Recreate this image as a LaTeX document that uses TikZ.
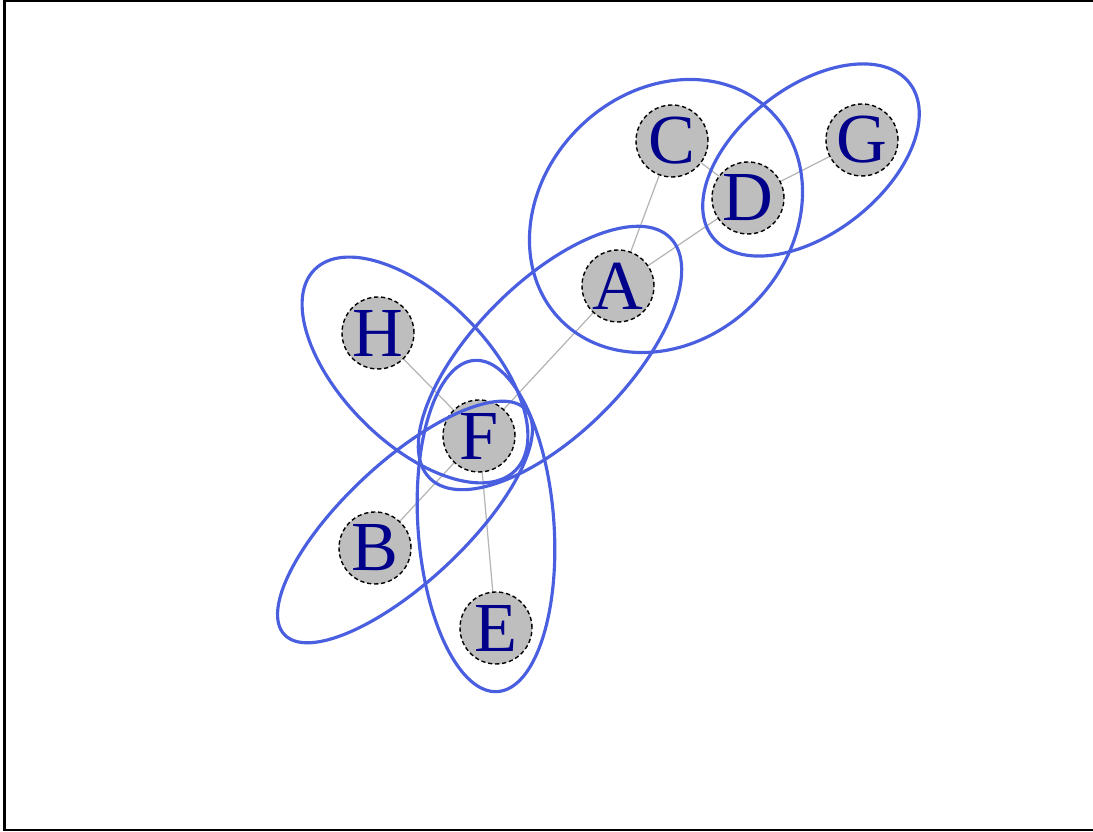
\documentclass[tikz,border=0pt]{standalone}
\usepackage{fontspec}
\setmainfont{Liberation Serif}
\usepackage{xcolor}
\definecolor{vertexfill}{HTML}{BEBEBE}
\definecolor{labelcolor}{HTML}{00008B}
\definecolor{hypercolor}{HTML}{4A5FE0}
\definecolor{linkcolor}{HTML}{B4B4B4}
\usepackage{tikz}
\usetikzlibrary{backgrounds}
\tikzset{
    vertex/.style={
        circle,
        draw=black,
        fill=vertexfill,
        text=labelcolor,
        minimum size=0.72cm,
        inner sep=0pt,
        line width=0.4pt,
        dash pattern=on 1.2pt off 0.8pt,
        font=\fontsize{20}{24}\selectfont,
    },
    link/.style={
        linkcolor,
        line width=0.35pt,
    },
    hyper/.style={
        hypercolor,
        line width=0.9pt,
    },
    frameline/.style={
        black,
        line width=0.6pt,
    },
}

\begin{document}
\begin{tikzpicture}
    \useasboundingbox (0,0) rectangle (10.93,-8.32);
    % Frame (top, left, bottom)
    \coordinate (f1) at (10.93,-0.01);
    \coordinate (f2) at (0.045,-0.01);
    \coordinate (f3) at (0.045,-8.30);
    \coordinate (f4) at (10.93,-8.30);
    \draw[frameline] (f1) -- (f2) -- (f3) -- (f4);

    % Vertices
    \foreach \name/\x/\y in {A/6.18/-2.86, B/3.75/-5.48, C/6.72/-1.41, D/7.48/-1.98,
                             E/4.96/-6.28, F/4.79/-4.36, G/8.62/-1.40, H/3.78/-3.33} {
        \node[vertex] (\name) at (\x,\y) {\name};
    }

    % Edges
    \begin{scope}[on background layer]
        \foreach \a/\b in {A/C, A/D, C/D, D/G, A/F, H/F, F/B, F/E} {
            \draw[link] (\a) -- (\b);
        }
    \end{scope}

    % Hyperedges
    \foreach \cx/\cy/\rx/\ry/\ang in {6.66/-2.16/1.48/1.24/45, 8.11/-1.60/1.25/0.73/38,
                                      5.50/-3.58/1.70/0.76/45, 4.15/-3.70/1.42/0.73/-45,
                                      4.05/-5.22/1.65/0.60/43, 4.86/-5.26/1.66/0.68/94} {
        \draw[hyper, rotate around={\ang:(\cx,\cy)}] (\cx,\cy) ellipse [x radius=\rx, y radius=\ry];
    }
\end{tikzpicture}
\end{document}
